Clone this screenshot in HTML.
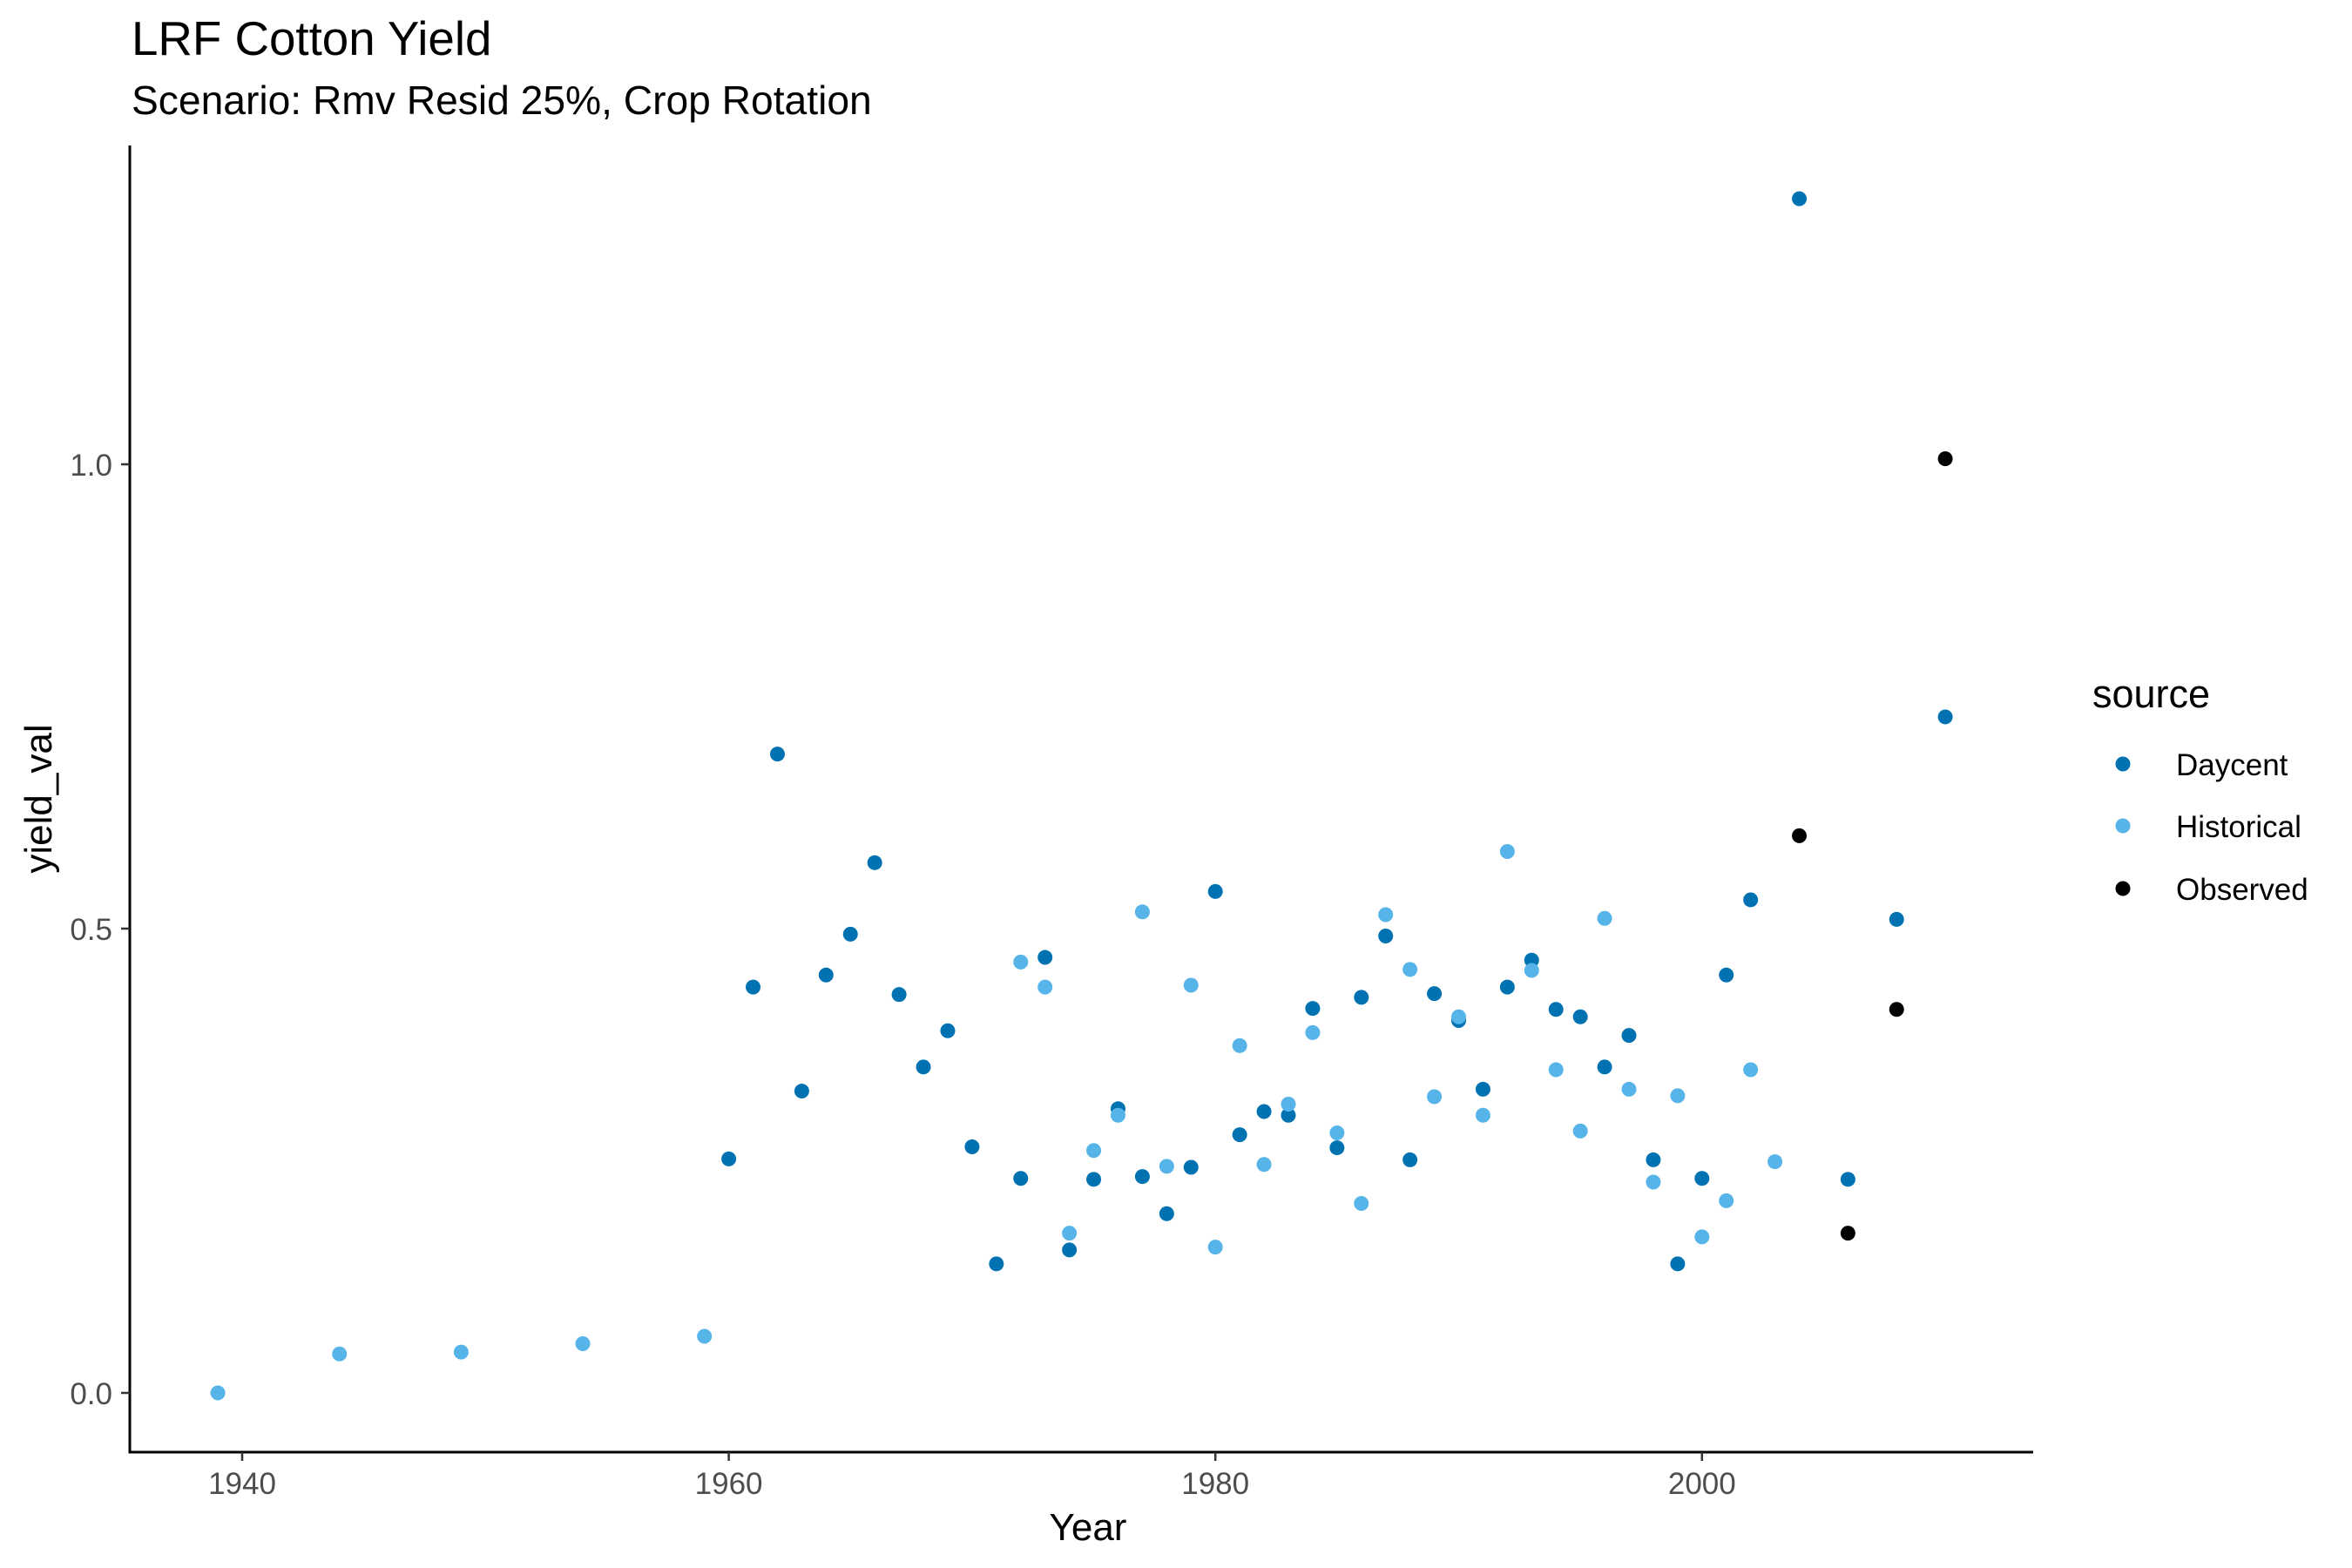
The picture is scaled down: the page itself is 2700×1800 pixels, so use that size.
<!DOCTYPE html>
<html><head><meta charset="utf-8"><style>
html,body{margin:0;padding:0;background:#fff;}
svg{display:block;font-family:"Liberation Sans",Arial,sans-serif;}
</style></head><body>
<svg id="chart" width="2700" height="1800" viewBox="0 0 2700 1800">
<rect width="2700" height="1800" fill="#fff"/>
<text x="151" y="63" font-size="54.7" fill="#000">LRF Cotton Yield</text>
<text x="151" y="131" font-size="46.2" fill="#000">Scenario: Rmv Resid 25%, Crop Rotation</text>
<g id="points"></g>
<g id="axes"></g>
<text x="1249" y="1768" font-size="44" text-anchor="middle" fill="#000">Year</text>
<text transform="translate(59,917) rotate(-90)" font-size="44" text-anchor="middle" fill="#000">yield_val</text>
<g>
<text x="2402" y="812" font-size="45" fill="#000">source</text>
<g><circle cx="2437" cy="877" r="8.5" fill="#0072B2"/><text x="2498" y="890" font-size="35" fill="#000">Daycent</text></g>
<g><circle cx="2437" cy="948" r="8.5" fill="#56B4E9"/><text x="2498" y="961" font-size="35" fill="#000">Historical</text></g>
<g><circle cx="2437" cy="1020" r="8.5" fill="#000"/><text x="2498" y="1033" font-size="35" fill="#000">Observed</text></g>
</g>
</svg>
<script>
const daycentYears=[1960,1961,1962,1963,1964,1965,1966,1967,1968,1969,1970,1971,1972,1973,1974,1975,1976,1977,1978,1979,1980,1981,1982,1983,1984,1985,1986,1987,1988,1989,1990,1991,1992,1993,1994,1995,1996,1997,1998,1999,2000,2001,2002,2004,2006,2008,2010];
const daycentValues=[0.252,0.437,0.688,0.325,0.450,0.494,0.571,0.429,0.351,0.390,0.265,0.139,0.231,0.469,0.154,0.230,0.306,0.233,0.193,0.243,0.540,0.278,0.303,0.299,0.414,0.264,0.426,0.492,0.251,0.430,0.401,0.327,0.437,0.466,0.413,0.405,0.351,0.385,0.251,0.139,0.231,0.450,0.531,1.286,0.230,0.510,0.728];
const historicalYears=[1939,1944,1949,1954,1959,1972,1973,1974,1975,1976,1977,1978,1979,1980,1981,1982,1983,1984,1985,1986,1987,1988,1989,1990,1991,1992,1993,1994,1995,1996,1997,1998,1999,2000,2001,2002,2003];
const historicalValues=[0.0,0.042,0.044,0.053,0.061,0.464,0.437,0.172,0.261,0.299,0.518,0.244,0.439,0.157,0.374,0.246,0.311,0.388,0.280,0.204,0.515,0.456,0.319,0.405,0.299,0.583,0.455,0.348,0.282,0.511,0.327,0.227,0.320,0.168,0.207,0.348,0.249];
const observedYears=[2004,2006,2008,2010];
const observedValues=[0.600,0.172,0.413,1.006];
const xTicks=[1940,1960,1980,2000];
const yTicks=[0.0,0.5,1.0];
const yTickLabels=["0.0","0.5","1.0"];

const NS="http://www.w3.org/2000/svg";
const L=149,R=2334,T=167,B=1667;
function xs(v){return 278+(v-1940)*27.93;}
function ys(v){return 1599-v*1066;}
const pts=document.getElementById('points');
function draw(years,vals,color,name){
  years.forEach((yr,i)=>{
    const c=document.createElementNS(NS,'circle');
    c.setAttribute('cx',xs(yr));c.setAttribute('cy',ys(vals[i]));
    c.setAttribute('r',8.5);c.setAttribute('fill',color);
    
    
    pts.appendChild(c);
  });
}
draw(daycentYears,daycentValues,'#0072B2','daycent');
draw(historicalYears,historicalValues,'#56B4E9','historical');
draw(observedYears,observedValues,'#000000','observed');

const ax=document.getElementById('axes');
function el(tag,attrs,txt){const e=document.createElementNS(NS,tag);for(const k in attrs)e.setAttribute(k,attrs[k]);if(txt!==undefined)e.textContent=txt;ax.appendChild(e);return e;}
const yl=el('line',{x1:L,y1:T,x2:L,y2:B+1.5,stroke:'#000','stroke-width':3});


const xl=el('line',{x1:L-1.5,y1:B,x2:R,y2:B,stroke:'#000','stroke-width':3});


xTicks.forEach(t=>{
  el('line',{x1:xs(t),y1:B,x2:xs(t),y2:B+10,stroke:'#333','stroke-width':2.5});
  const tx=el('text',{x:xs(t),y:B+48,'font-size':35,'text-anchor':'middle',fill:'#4D4D4D'},String(t));
  
  
});
yTicks.forEach((t,i)=>{
  el('line',{x1:L-10,y1:ys(t),x2:L,y2:ys(t),stroke:'#333','stroke-width':2.5});
  const tx=el('text',{x:L-20,y:ys(t)+13,'font-size':35,'text-anchor':'end',fill:'#4D4D4D'},yTickLabels[i]);
  
  
});
</script>
</body></html>
